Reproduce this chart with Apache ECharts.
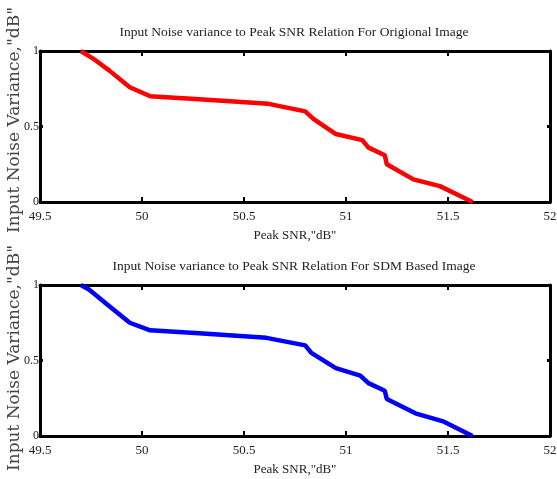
<!DOCTYPE html>
<html>
<head>
<meta charset="utf-8">
<script src="https://cdn.jsdelivr.net/npm/echarts@6/dist/echarts.min.js"></script>
<style>html,body{margin:0;padding:0;background:#fff;}#c{width:557px;height:479px;}</style>
</head>
<body>
<div id="c"></div>
<script>
const titles = [
  'Input Noise variance to Peak SNR Relation For Origional Image',
  'Input Noise variance to Peak SNR Relation For SDM Based Image'
];
const xName = 'Peak SNR,"dB"';
const yName = 'Input Noise Variance,"dB"';

const snrOriginal   = [49.70, 49.76, 49.84, 49.94, 50.04, 50.28, 50.62, 50.80, 50.84, 50.95, 51.08, 51.11, 51.19, 51.20, 51.33, 51.46, 51.62];
const noiseOriginal = [1.00,  0.95,  0.87,  0.76,  0.70,  0.68,  0.65,  0.60,  0.55,  0.45,  0.41,  0.36,  0.31,  0.25,  0.15,  0.105, 0.00];

const snrSDM   = [49.70, 49.74, 49.84, 49.94, 50.04, 50.28, 50.61, 50.80, 50.83, 50.95, 51.07, 51.11, 51.19, 51.20, 51.34, 51.48, 51.62];
const noiseSDM = [1.00,  0.97,  0.86,  0.75,  0.70,  0.68,  0.65,  0.60,  0.55,  0.45,  0.40,  0.35,  0.30,  0.245, 0.15,  0.095, 0.00];

const xMin = 49.5, xMax = 52, xStep = 0.5;
const yMin = 0, yMax = 1, yStep = 0.5;

const FONT = '"Liberation Serif", serif';
const grids = [
  {left: 40, right: 7, top: 51, height: 151, containLabel: false, outerBoundsMode: 'none'},
  {left: 40, right: 7, top: 285, height: 151, containLabel: false, outerBoundsMode: 'none'}
];

function zip(a, b) { return a.map((v, i) => [v, b[i]]); }

const xAxes = [], yAxes = [];
grids.forEach((g, gi) => {
  xAxes.push({
    gridIndex: gi, type: 'value', min: xMin, max: xMax, interval: xStep, position: 'bottom',
    name: xName, nameLocation: 'middle', nameGap: 27,
    nameTextStyle: {fontFamily: FONT, fontSize: 13, color: '#222'},
    axisLine: {show: true, onZero: false, lineStyle: {color: '#000', width: 3}},
    axisTick: {show: true, inside: true, length: 5, lineStyle: {color: '#000', width: 2}},
    axisLabel: {show: true, margin: 8, fontFamily: FONT, fontSize: 13, color: '#222',
      hideOverlap: false, formatter: v => String(+v.toFixed(1))},
    splitLine: {show: false}
  });
  xAxes.push({
    gridIndex: gi, type: 'value', min: xMin, max: xMax, interval: xStep, position: 'top',
    axisLine: {show: true, onZero: false, lineStyle: {color: '#000', width: 3}},
    axisTick: {show: true, inside: true, length: 5, lineStyle: {color: '#000', width: 2}},
    axisLabel: {show: false}, splitLine: {show: false}
  });
  yAxes.push({
    gridIndex: gi, type: 'value', min: yMin, max: yMax, interval: yStep, position: 'left',
    axisLine: {show: true, onZero: false, lineStyle: {color: '#000', width: 3}},
    axisTick: {show: true, inside: true, length: 3, lineStyle: {color: '#000', width: 3}},
    axisLabel: {show: true, margin: 1, fontFamily: FONT, fontSize: 12, color: '#222',
      formatter: v => String(+v.toFixed(1))},
    splitLine: {show: false}
  });
  yAxes.push({
    gridIndex: gi, type: 'value', min: yMin, max: yMax, interval: yStep, position: 'right',
    axisLine: {show: true, onZero: false, lineStyle: {color: '#000', width: 3}},
    axisTick: {show: true, inside: true, length: 3, lineStyle: {color: '#000', width: 3}},
    axisLabel: {show: false}, splitLine: {show: false}
  });
});

const yNameCenters = [120, 358];

const chart = echarts.init(document.getElementById('c'), null, {renderer: 'canvas'});
chart.setOption({
  animation: false,
  backgroundColor: '#fff',
  title: [
    {text: titles[0], left: 289, top: 20, textAlign: 'center',
     textStyle: {fontFamily: FONT, fontSize: 13.5, fontWeight: 'normal', color: '#222'}},
    {text: titles[1], left: 289, top: 254, textAlign: 'center',
     textStyle: {fontFamily: FONT, fontSize: 13.5, fontWeight: 'normal', color: '#222'}}
  ],
  graphic: yNameCenters.map(cy => ({
    type: 'text', x: 15, y: cy, rotation: Math.PI / 2,
    style: {text: yName, fontFamily: '"DejaVu Serif", serif', fontSize: 17, fill: '#444',
      align: 'center', verticalAlign: 'middle'}
  })),
  grid: grids,
  xAxis: xAxes,
  yAxis: yAxes,
  series: [
    {type: 'line', xAxisIndex: 0, yAxisIndex: 0, data: zip(snrOriginal, noiseOriginal),
     showSymbol: false, lineStyle: {color: '#ff0000', width: 4.5}, clip: true},
    {type: 'line', xAxisIndex: 2, yAxisIndex: 2, data: zip(snrSDM, noiseSDM),
     showSymbol: false, lineStyle: {color: '#0000ff', width: 4.5}, clip: true}
  ]
});
</script>
</body>
</html>
